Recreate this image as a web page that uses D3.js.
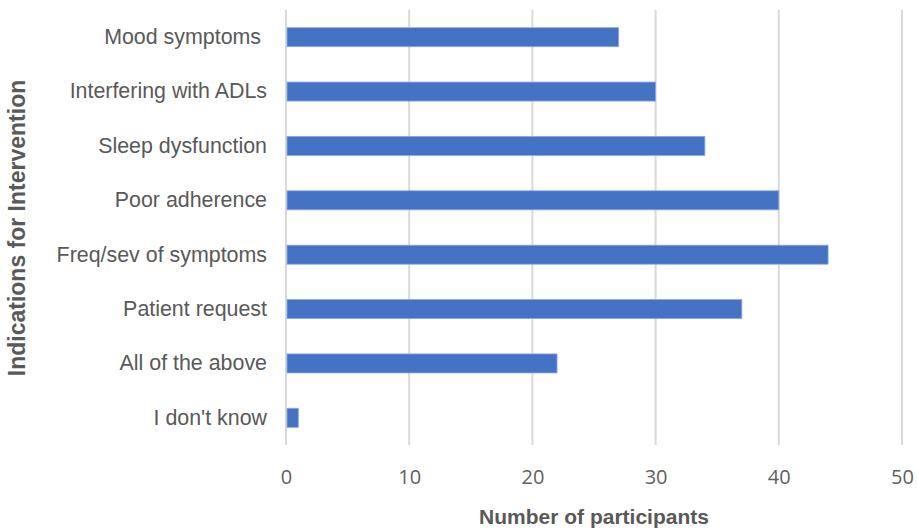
<!DOCTYPE html>
<html>
<head>
<meta charset="utf-8">
<script src="https://cdn.jsdelivr.net/npm/d3@7"></script>
<style>
  html, body { margin: 0; padding: 0; background: #fff; }
  svg { display: block; }
</style>
</head>
<body>
<svg id="chart" width="917" height="530"></svg>
<script>
// Indications reported for intervention, number of participants each
const categories = [
  "Mood symptoms ",
  "Interfering with ADLs",
  "Sleep dysfunction",
  "Poor adherence",
  "Freq/sev of symptoms",
  "Patient request",
  "All of the above",
  "I don't know"
];
const participants = [27, 30, 34, 40, 44, 37, 22, 1];
const xTicks = [0, 10, 20, 30, 40, 50];
const xTitle = "Number of participants";
const yTitle = "Indications for Intervention";

const svg = d3.select("#chart");
const margin = { top: 10, right: 15, bottom: 85, left: 286 };
const W = 917, H = 530;
const plotH = H - margin.top - margin.bottom;

const x = d3.scaleLinear().domain([0, 50]).range([0, 616]);
const y = d3.scaleBand().domain(categories).range([0, plotH]).paddingInner(0.65).paddingOuter(0.325);

const g = svg.append("g").attr("transform", `translate(${margin.left},${margin.top})`);

// vertical gridlines
g.append("g")
  .selectAll("line")
  .data(xTicks)
  .join("line")
  .attr("x1", d => x(d)).attr("x2", d => x(d))
  .attr("y1", 0).attr("y2", plotH)
  .attr("stroke", "#d9d9d9")
  .attr("stroke-width", 2);

// bars
g.append("g")
  .selectAll("rect")
  .data(categories)
  .join("rect")
  .attr("x", x(0) + 1)
  .attr("y", d => y(d))
  .attr("width", (d, i) => x(participants[i]) - x(0) - 1)
  .attr("height", y.bandwidth())
  .attr("fill", "#4472c4")
  .attr("stroke", "#8fa9dc")
  .attr("stroke-width", 0.8);

// x axis tick labels
const xAxis = d3.axisBottom(x).tickValues(xTicks).tickSize(0).tickPadding(25);
const xg = g.append("g").attr("transform", `translate(0,${plotH})`).call(xAxis);
xg.select(".domain").remove();
xg.selectAll("text")
  .attr("font-family", "'Open Sans', 'Liberation Sans', sans-serif")
  .attr("font-size", 20)
  .attr("fill", "#5f5f5f");

// y axis category labels
const yAxis = d3.axisLeft(y).tickSize(0).tickPadding(19);
const yg = g.append("g").call(yAxis);
yg.select(".domain").remove();
yg.selectAll("text")
  .attr("font-family", "'Liberation Sans', Arial, sans-serif")
  .attr("font-size", 21.4)
  .attr("fill", "#595959")
  .style("white-space", "pre");

// axis titles
svg.append("text")
  .attr("x", 594).attr("y", 524)
  .attr("text-anchor", "middle")
  .attr("font-family", "'Liberation Sans', Arial, sans-serif")
  .attr("font-weight", "bold")
  .attr("font-size", 21)
  .attr("fill", "#595959")
  .text(xTitle);

svg.append("text")
  .attr("transform", "translate(25,228) rotate(-90)")
  .attr("text-anchor", "middle")
  .attr("font-family", "'Liberation Sans', Arial, sans-serif")
  .attr("font-weight", "bold")
  .attr("font-size", 23)
  .attr("fill", "#595959")
  .text(yTitle);
</script>
</body>
</html>
